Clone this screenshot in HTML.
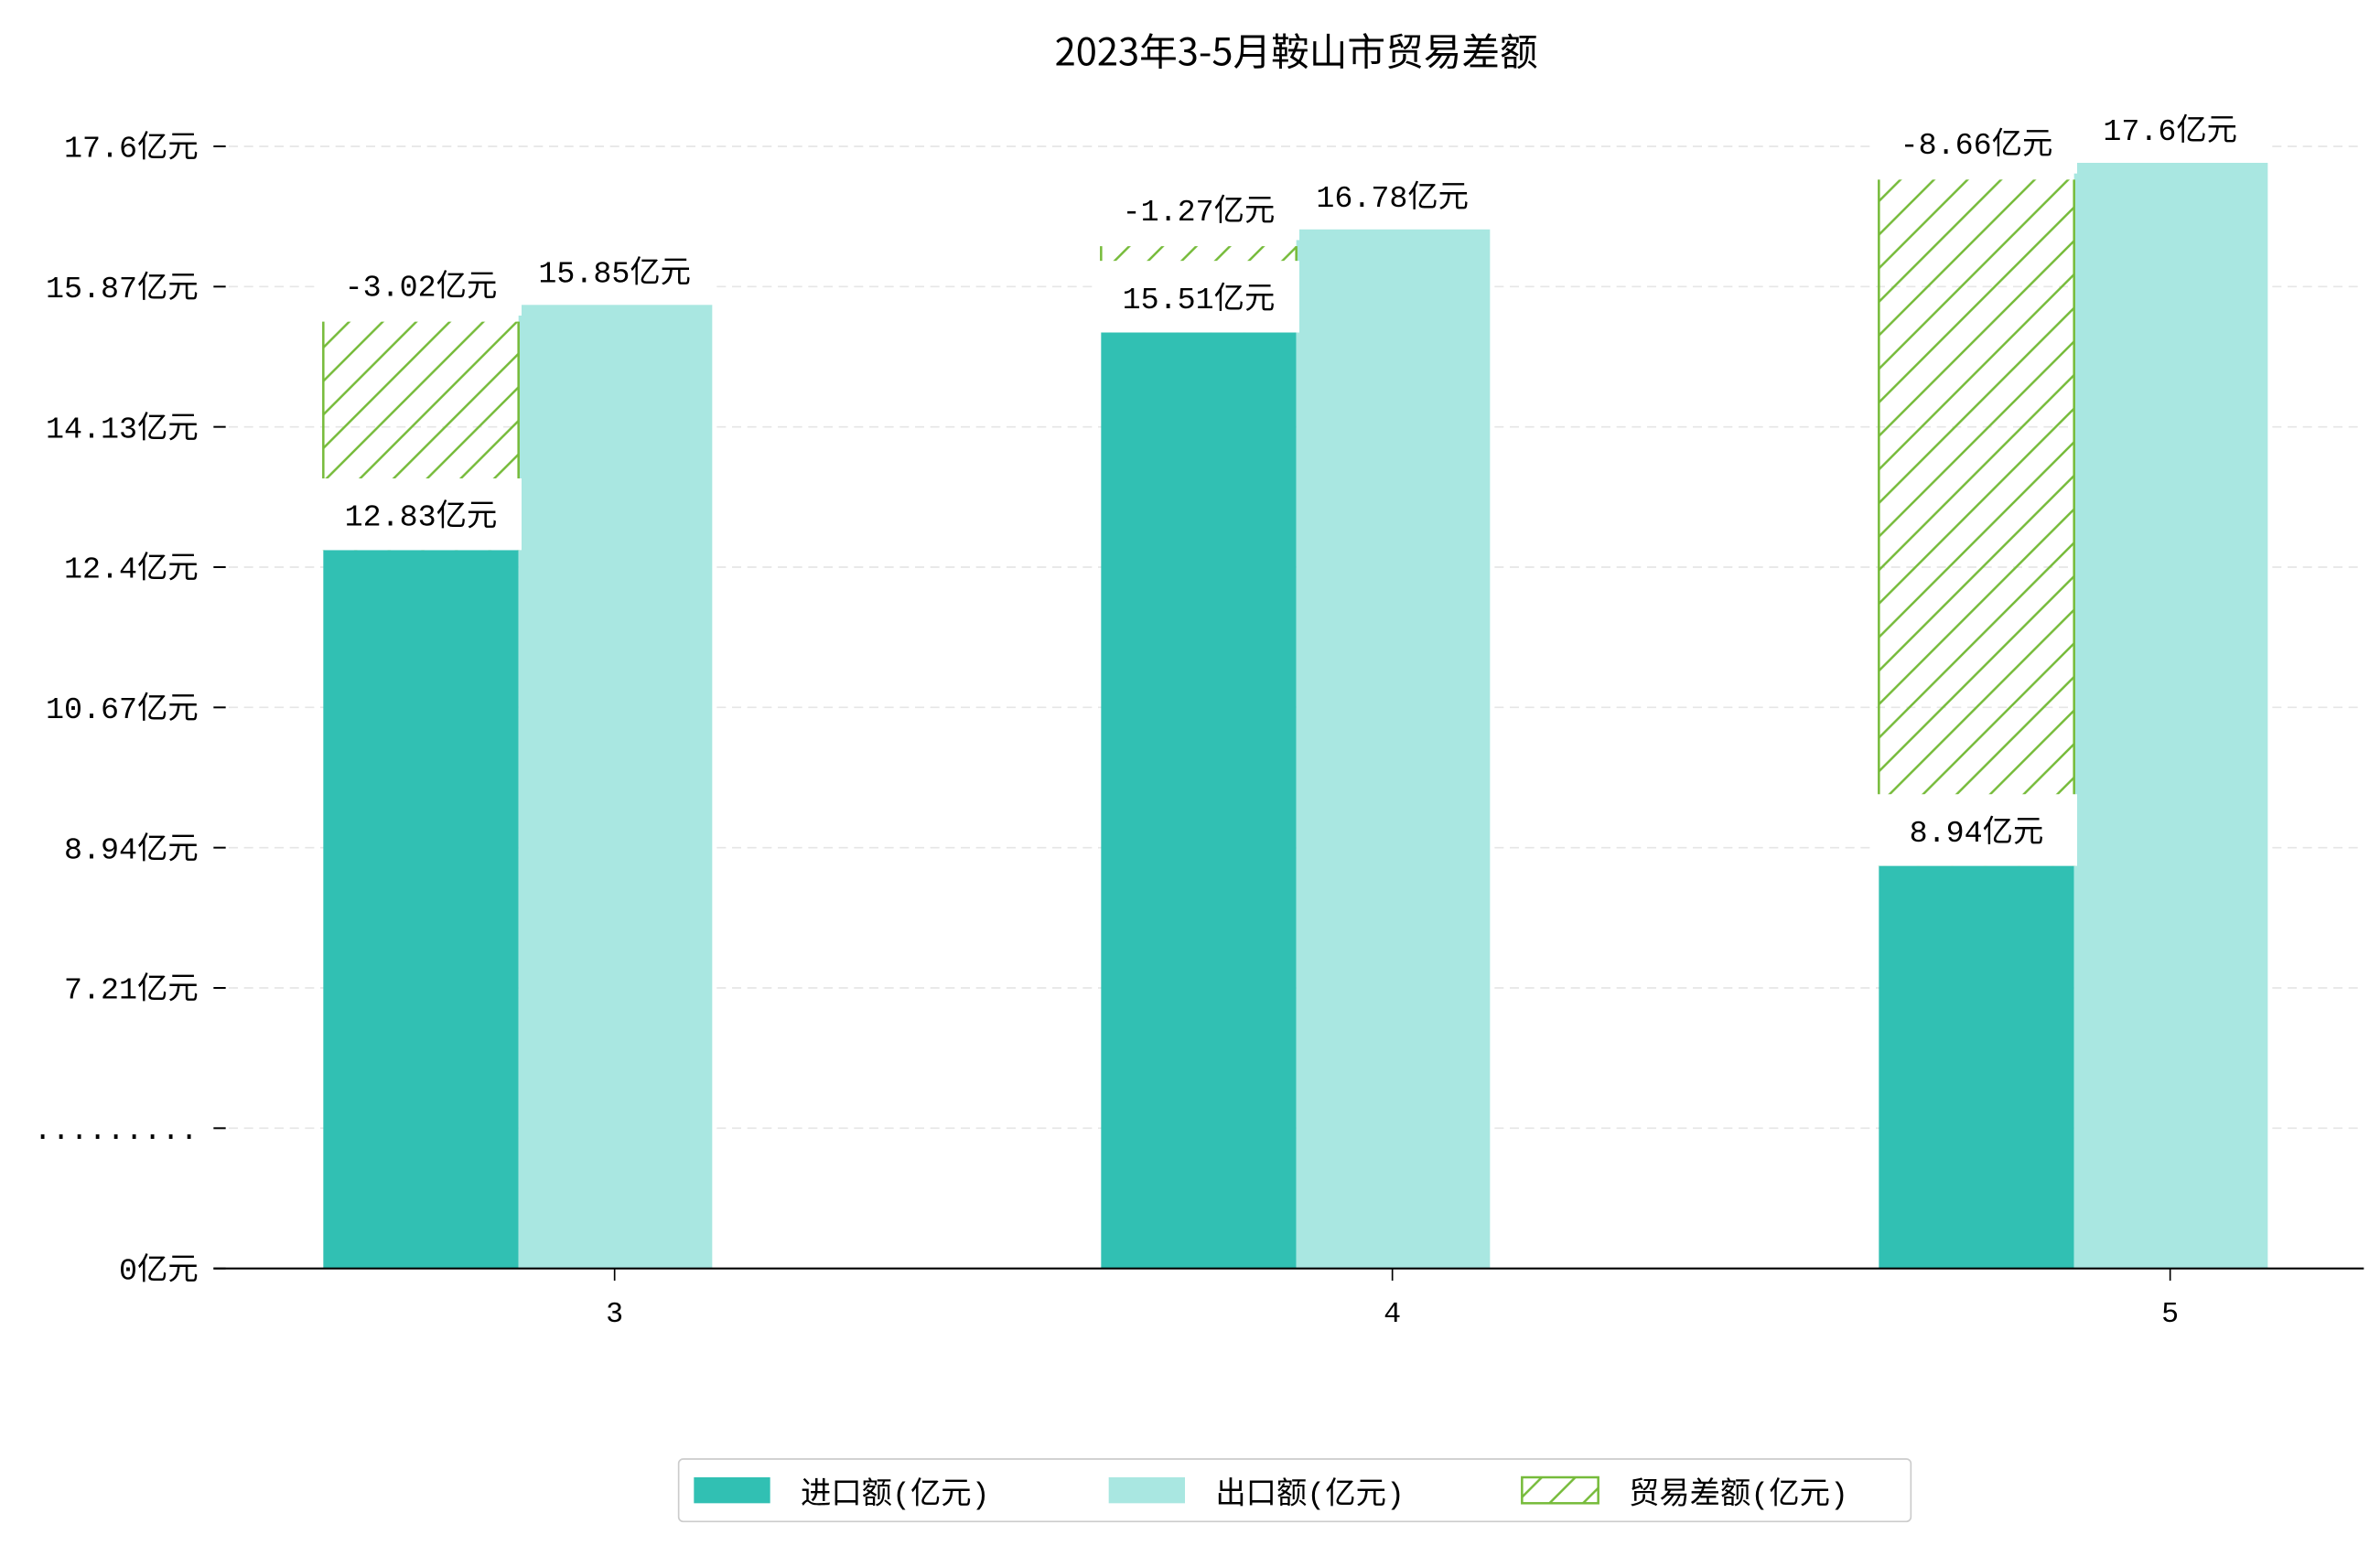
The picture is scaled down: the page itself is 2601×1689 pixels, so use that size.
<!DOCTYPE html>
<html><head><meta charset="utf-8"><style>
html,body{margin:0;padding:0;background:#fff;}
svg{display:block;font-family:"Liberation Mono","Noto Sans CJK SC",monospace;}
</style></head><body>
<svg id="chart" width="2601" height="1689" viewBox="0 0 1560.6 1013.4" xmlns="http://www.w3.org/2000/svg">
<defs>
<pattern id="hatch" patternUnits="userSpaceOnUse" width="22" height="22">
<path d="M-2,24 L24,-2 M-13,13 L13,-13 M9,35 L35,9" stroke="#76bb3a" stroke-width="1.5"/>
</pattern>
</defs>
<text x="850" y="43" text-anchor="middle" font-size="25" style="font-family:'Noto Sans CJK SC',sans-serif">2023年3-5月鞍山市贸易差额</text>
<g id="grid"></g>
<g id="bars"></g>
<g id="labels"></g>
<line x1="140" y1="832" x2="1550" y2="832" stroke="#000" stroke-width="1.3"/>
<g>
<rect x="445" y="957" width="808" height="41" fill="#fff" stroke="#ccc" rx="3"/>
<rect x="455" y="969" width="50" height="17" fill="#31c0b3"/>
<text x="525" y="986" font-size="20">进口额(亿元)</text>
<rect x="727" y="969" width="50" height="17" fill="#a9e7e1"/>
<text x="797" y="986" font-size="20">出口额(亿元)</text>
<rect x="998" y="969" width="50" height="17" fill="url(#hatch)" stroke="#76bb3a" stroke-width="1.5"/>
<text x="1068" y="986" font-size="20">贸易差额(亿元)</text>
</g>
</svg>
<script>
const categories = ['3','4','5'];
const imports = [12.83, 15.51, 8.94];
const exports = [15.85, 16.78, 17.6];
const balance = [-3.02, -1.27, -8.66];
const tickLabels = ['0亿元','.........','7.21亿元','8.94亿元','10.67亿元','12.4亿元','14.13亿元','15.87亿元','17.6亿元'];
const NS='http://www.w3.org/2000/svg';
function y(v){return 1044 - v*53.25;}
function x(i){return 403 + i*510;}
function tickY(i){return 832 - i*92;}
function mk(tag,attrs,parent){const e=document.createElementNS(NS,tag);for(const k in attrs)e.setAttribute(k,attrs[k]);parent.appendChild(e);return e;}
const grid=document.getElementById('grid'),bars=document.getElementById('bars'),labels=document.getElementById('labels');
tickLabels.forEach((t,i)=>{
  const ty=tickY(i);
  if(i>0){const g=mk('line',{x1:150,x2:1550,y1:ty,y2:ty,stroke:'#e6e6e6','stroke-dasharray':'6,4','stroke-width':1},grid);
  
  }
  const tk=mk('line',{x1:140,x2:148,y1:ty,y2:ty,stroke:'#000','stroke-width':1.2},grid);
  
  
  const tl=mk('text',{x:130,y:ty+7,'text-anchor':'end','font-size':20},grid);
  tl.textContent=t;
  
  
});
function label(txt,cx,cy,boxTop,boxBot,name){
  const r=mk('rect',{x:cx-66,y:boxTop,width:132,height:boxBot-boxTop,fill:'#fff'},labels);
  
  
  const t=mk('text',{x:cx,y:cy+7,'text-anchor':'middle','font-size':20},labels);
  t.textContent=txt;
  
  
}
categories.forEach((c,i)=>{
  const cx=x(i);
  const yi=y(imports[i]), ye=y(exports[i]);
  const bi=mk('rect',{x:cx-191,y:yi,width:128,height:832-yi,fill:'#31c0b3'},bars);
  
  
  const be=mk('rect',{x:cx-63,y:ye,width:127,height:832-ye,fill:'#a9e7e1'},bars);
  
  
  const yt=y(imports[i]+Math.abs(balance[i]))+11;
  const bh=mk('rect',{x:cx-191,y:yt,width:128,height:yi-yt,fill:'url(#hatch)'},bars);
  
  
  const sl=mk('path',{d:'M'+(cx-191)+','+yt+' V'+yi+' M'+(cx-63)+','+yt+' V'+yi,stroke:'#76bb3a','stroke-width':1.5,fill:'none'},bars);
  
  
  const xt=mk('text',{x:cx,y:867,'text-anchor':'middle','font-size':19},labels);
  xt.textContent=c;
  
  
  const xk=mk('line',{x1:cx,x2:cx,y1:832,y2:840,stroke:'#000'},labels);
  
  
  label(imports[i]+'亿元',cx-127,yi-23,yi-47,yi,'import-value-label');
  label(balance[i]+'亿元',cx-127,yt-24,yt-44,yt-4,'balance-value-label');
  label(exports[i]+'亿元',cx,ye-22,ye-42,ye-4,'export-value-label');
});
</script>
</body></html>
